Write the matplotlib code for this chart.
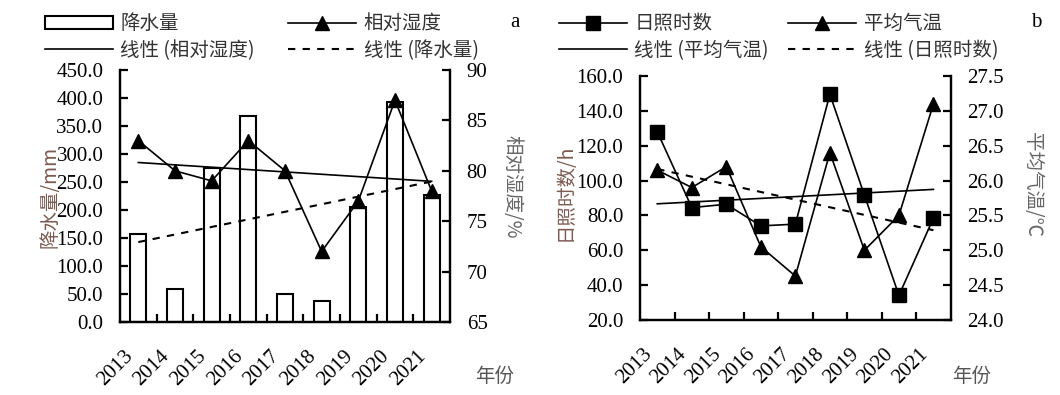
import numpy as np
import matplotlib
matplotlib.use("Agg")
import matplotlib.pyplot as plt
from matplotlib.transforms import ScaledTranslation
from matplotlib.ticker import FormatStrFormatter, FixedLocator

years = ["2013", "2014", "2015", "2016", "2017", "2018", "2019", "2020", "2021"]
precip = [157, 58.5, 275, 368, 50, 37.5, 206, 393, 226]
humidity = [83, 80, 79, 83, 80, 72, 77, 87, 78]
sunshine = [128, 84.5, 86.4, 74, 75, 149.5, 91.6, 34.1, 78.5]
temperature = [26.15, 25.9, 26.2, 25.05, 24.63, 26.4, 25.0, 25.5, 27.1]

SERIF = "Liberation Serif"
CJK = ["Noto Sans CJK SC", "DejaVu Sans"]
plt.rcParams['font.family'] = SERIF
plt.rcParams['font.size'] = 15

fig = plt.figure(figsize=(10.6, 3.95), dpi=100)
x = np.arange(len(years))

SPW = 1.6
LW = 1.2
MS = 10
TFS = 15


def style_axes(ax, axr, yfmt_left, yfmt_right):
    for a in (ax, axr):
        a.spines['top'].set_visible(False)
        for s in ('left', 'right', 'bottom'):
            a.spines[s].set_linewidth(SPW)
    ax.set_xlim(-0.5, len(years) - 0.5)
    ax.set_xticks(x)
    ax.set_xticklabels(years, rotation=45, ha='right', va='top',
                       rotation_mode='anchor', fontsize=TFS, fontfamily=SERIF)
    ax.tick_params(axis='x', which='major', length=0, pad=18)
    ax.xaxis.set_minor_locator(FixedLocator(np.arange(0.5, len(years) - 1, 1.0)))
    ax.tick_params(axis='x', which='minor', direction='in', length=6, width=SPW)
    off = ScaledTranslation(-15 / 100, 0, fig.dpi_scale_trans)
    for lab in ax.get_xticklabels():
        lab.set_transform(lab.get_transform() + off)
    ax.tick_params(axis='y', direction='in', length=6, width=SPW, pad=12, labelsize=TFS)
    axr.tick_params(axis='y', direction='in', length=6, width=SPW, pad=12, labelsize=TFS)
    ax.yaxis.set_major_formatter(FormatStrFormatter(yfmt_left))
    axr.yaxis.set_major_formatter(FormatStrFormatter(yfmt_right))


# ---------------- panel a ----------------
ax1 = fig.add_axes([0.1132, 0.1848, 0.3113, 0.638])
ax2 = ax1.twinx()
bars = ax1.bar(x, precip, width=0.44, facecolor='white', edgecolor='black',
               linewidth=1.5, zorder=2, label='降水量')
pfit = np.polyval(np.polyfit(x, precip, 1), x)
ptr, = ax1.plot(x, pfit, color='black', lw=1.5, ls=(0, (3.5, 3.5)), zorder=3,
                label='线性 (降水量)')
ax1.set_ylim(0, 450)
ax1.set_yticks(np.arange(0, 451, 50))
hl, = ax2.plot(x, humidity, color='black', lw=LW, marker='^', ms=MS, label='相对湿度')
hfit = np.polyval(np.polyfit(x, humidity, 1), x)
htr, = ax2.plot(x, hfit, color='black', lw=LW, label='线性 (相对湿度)')
ax2.set_ylim(65, 90)
ax2.set_yticks(np.arange(65, 91, 5))
style_axes(ax1, ax2, '%.1f', '%d')

fig.legend([bars, htr, hl, ptr],
           ['降水量', '线性 (相对湿度)', '相对湿度', '线性 (降水量)'],
           ncol=2, loc='upper left', bbox_to_anchor=(0.042, 0.966),
           frameon=False, handlelength=3.5, handletextpad=0.4,
           columnspacing=1.7, borderpad=0, borderaxespad=0, labelspacing=0.3,
           prop={'family': CJK, 'size': 14}, labelcolor='#333333')

fig.text(0.0472, 0.5013, '降水量/mm', rotation=90, ha='center', va='center',
         family=CJK, fontsize=14, color='#7d5a4f')
fig.text(0.483, 0.527, '相对湿度/%', rotation=270, ha='center', va='center',
         family=CJK, fontsize=14, color='#666666')
fig.text(0.467, 0.048, '年份', ha='center', va='center', family=CJK,
         fontsize=14, color='#555555')
fig.text(0.486, 0.942, 'a', ha='center', va='center', family=SERIF, fontsize=15)

# ---------------- panel b ----------------
ax3 = fig.add_axes([0.6038, 0.1899, 0.2931, 0.6177])
ax4 = ax3.twinx()
sl, = ax3.plot(x, sunshine, color='black', lw=LW, marker='s', ms=MS, label='日照时数')
sfit = np.polyval(np.polyfit(x, sunshine, 1), x)
str_, = ax3.plot(x, sfit, color='black', lw=1.5, ls=(0, (3.5, 3.5)), label='线性 (日照时数)')
ax3.set_ylim(20, 160)
ax3.set_yticks(np.arange(20, 161, 20))
tl, = ax4.plot(x, temperature, color='black', lw=LW, marker='^', ms=MS, label='平均气温')
tfit = np.polyval(np.polyfit(x, temperature, 1), x)
ttr, = ax4.plot(x, tfit, color='black', lw=LW, label='线性 (平均气温)')
ax4.set_ylim(24, 27.5)
ax4.set_yticks(np.arange(24, 27.51, 0.5))
style_axes(ax3, ax4, '%.1f', '%.1f')

fig.legend([sl, ttr, tl, str_],
           ['日照时数', '线性 (平均气温)', '平均气温', '线性 (日照时数)'],
           ncol=2, loc='upper left', bbox_to_anchor=(0.527, 0.966),
           frameon=False, handlelength=3.5, handletextpad=0.4,
           columnspacing=1.0, borderpad=0, borderaxespad=0, labelspacing=0.3,
           prop={'family': CJK, 'size': 14}, labelcolor='#333333')

fig.text(0.533, 0.514, '日照时数/h', rotation=90, ha='center', va='center',
         family=CJK, fontsize=14, color='#7d5a4f')
fig.text(0.9736, 0.532, '平均气温/℃', rotation=270, ha='center', va='center',
         family=CJK, fontsize=14, color='#666666')
fig.text(0.917, 0.048, '年份', ha='center', va='center', family=CJK,
         fontsize=14, color='#555555')
fig.text(0.978, 0.942, 'b', ha='center', va='center', family=SERIF, fontsize=15)

fig.savefig('out.png', dpi=100)
